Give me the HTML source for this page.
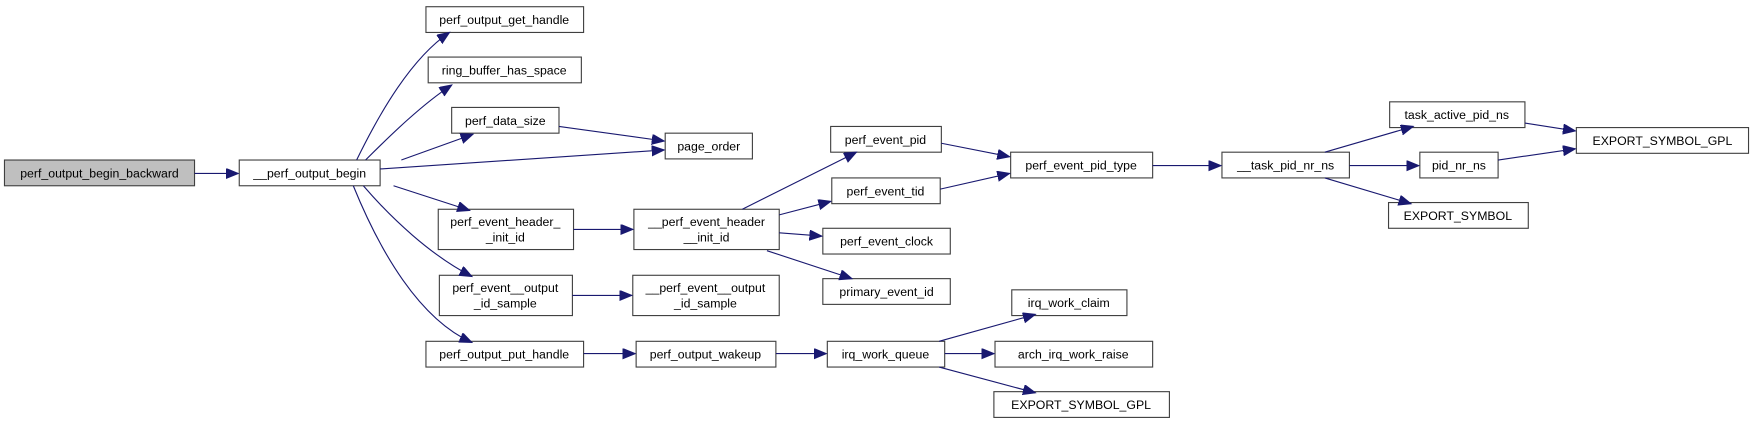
<!DOCTYPE html>
<html><head><meta charset="utf-8"><style>
html,body{margin:0;padding:0;background:#fff;width:1753px;height:423px;overflow:hidden}
svg{display:block}
text{font-family:"Liberation Sans",Arial,sans-serif;font-size:11px;fill:#000;text-anchor:middle}
rect{fill:#fff;stroke:#404040;stroke-width:1}
.e{fill:none;stroke:#191970;stroke-width:1}
</style></head><body>
<svg width="1753" height="423" viewBox="0 0 1568 378" preserveAspectRatio="none">
<defs><marker id="a" markerUnits="userSpaceOnUse" markerWidth="14" markerHeight="12" refX="11" refY="4.5" orient="auto"><path d="M0,0 L11,4.5 L0,9 z" fill="#191970" stroke="#191970"/></marker></defs>
<g>
<rect x="4" y="143" width="170" height="23" style="fill:#bfbfbf"/><text x="89" y="158.5">perf_output_begin_backward</text>
<rect x="214" y="143" width="126" height="23"/><text x="277" y="158.5">__perf_output_begin</text>
<rect x="381" y="6" width="141" height="23"/><text x="451" y="21.5">perf_output_get_handle</text>
<rect x="383" y="51" width="137" height="23"/><text x="451" y="66.5">ring_buffer_has_space</text>
<rect x="404" y="96" width="96" height="23"/><text x="452" y="111.5">perf_data_size</text>
<rect x="595" y="119" width="78" height="23"/><text x="634" y="134.5">page_order</text>
<rect x="392" y="187" width="121" height="36"/><text x="452" y="202">perf_event_header_</text><text x="452" y="216">_init_id</text>
<rect x="393" y="246" width="119" height="36"/><text x="452" y="261">perf_event__output</text><text x="452" y="275">_id_sample</text>
<rect x="381" y="305" width="141" height="23"/><text x="451" y="320.5">perf_output_put_handle</text>
<rect x="567" y="187" width="130" height="36"/><text x="632" y="202">__perf_event_header</text><text x="632" y="216">__init_id</text>
<rect x="566" y="246" width="131" height="36"/><text x="631" y="261">__perf_event__output</text><text x="631" y="275">_id_sample</text>
<rect x="569" y="305" width="125" height="23"/><text x="631" y="320.5">perf_output_wakeup</text>
<rect x="743" y="113" width="99" height="23"/><text x="792" y="128.5">perf_event_pid</text>
<rect x="744" y="159" width="97" height="23"/><text x="792" y="174.5">perf_event_tid</text>
<rect x="736" y="204" width="114" height="23"/><text x="793" y="219.5">perf_event_clock</text>
<rect x="736" y="249" width="114" height="23"/><text x="793" y="264.5">primary_event_id</text>
<rect x="904" y="136" width="127" height="23"/><text x="967" y="151.5">perf_event_pid_type</text>
<rect x="740" y="305" width="105" height="23"/><text x="792" y="320.5">irq_work_queue</text>
<rect x="905" y="259" width="103" height="23"/><text x="956" y="274.5">irq_work_claim</text>
<rect x="890" y="305" width="141" height="23"/><text x="960" y="320.5">arch_irq_work_raise</text>
<rect x="889" y="350" width="157" height="23"/><text x="967" y="365.5">EXPORT_SYMBOL_GPL</text>
<rect x="1093" y="136" width="114" height="23"/><text x="1150" y="151.5">__task_pid_nr_ns</text>
<rect x="1243" y="91" width="121" height="23"/><text x="1303" y="106.5">task_active_pid_ns</text>
<rect x="1270" y="136" width="70" height="23"/><text x="1305" y="151.5">pid_nr_ns</text>
<rect x="1242" y="181" width="125" height="23"/><text x="1304" y="196.5">EXPORT_SYMBOL</text>
<rect x="1410" y="114" width="154" height="23"/><text x="1487" y="129.5">EXPORT_SYMBOL_GPL</text>
</g>
<g class="edges">
<path class="e" marker-end="url(#a)" d="M174,155 L213,155"/>
<path class="e" marker-end="url(#a)" d="M319,143 C340,100 368,52 402,29"/>
<path class="e" marker-end="url(#a)" d="M327,143 C350,120 378,93 404,76"/>
<path class="e" marker-end="url(#a)" d="M359,143 L423,120"/>
<path class="e" marker-end="url(#a)" d="M340,151 L594,134"/>
<path class="e" marker-end="url(#a)" d="M500,113 L594,126"/>
<path class="e" marker-end="url(#a)" d="M352,166 L420,188"/>
<path class="e" marker-end="url(#a)" d="M325,166 C350,195 385,228 422,247"/>
<path class="e" marker-end="url(#a)" d="M316,166 C340,225 375,285 422,306"/>
<path class="e" marker-end="url(#a)" d="M513,205 L566,205"/>
<path class="e" marker-end="url(#a)" d="M512,264 L565,264"/>
<path class="e" marker-end="url(#a)" d="M522,316 L568,316"/>
<path class="e" marker-end="url(#a)" d="M694,316 L739,316"/>
<path class="e" marker-end="url(#a)" d="M664,187 L766,136"/>
<path class="e" marker-end="url(#a)" d="M697,192 L743,180"/>
<path class="e" marker-end="url(#a)" d="M697,208 L735,211"/>
<path class="e" marker-end="url(#a)" d="M686,224 L762,249"/>
<path class="e" marker-end="url(#a)" d="M842,128 L903,140"/>
<path class="e" marker-end="url(#a)" d="M841,169 L903,155"/>
<path class="e" marker-end="url(#a)" d="M1031,148 L1092,148"/>
<path class="e" marker-end="url(#a)" d="M1185,136 L1264,113"/>
<path class="e" marker-end="url(#a)" d="M1207,148 L1269,148"/>
<path class="e" marker-end="url(#a)" d="M1185,159 L1262,182"/>
<path class="e" marker-end="url(#a)" d="M1364,110 L1409,117"/>
<path class="e" marker-end="url(#a)" d="M1340,143 L1409,133"/>
<path class="e" marker-end="url(#a)" d="M840,305 L926,281"/>
<path class="e" marker-end="url(#a)" d="M845,316 L889,316"/>
<path class="e" marker-end="url(#a)" d="M840,328 L926,351"/>
</g>
</svg>
</body></html>
